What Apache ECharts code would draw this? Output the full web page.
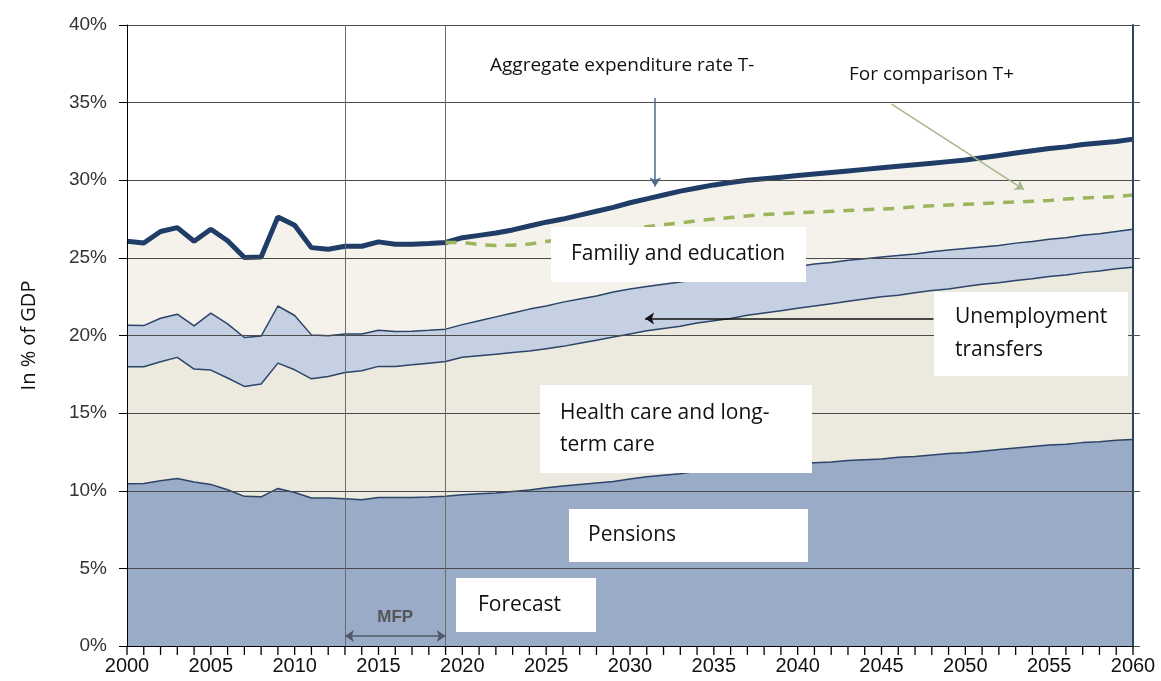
<!DOCTYPE html>
<html>
<head>
<meta charset="utf-8">
<script src="https://cdn.jsdelivr.net/npm/echarts@6/dist/echarts.min.js"></script>
<style>
  html, body { margin: 0; padding: 0; background: #fff; }
  #chart { width: 1161px; height: 681px; }
</style>
</head>
<body>
<div id="chart"></div>
<script>
// years on the x axis
var years = [2000, 2001, 2002, 2003, 2004, 2005, 2006, 2007, 2008, 2009,
  2010, 2011, 2012, 2013, 2014, 2015, 2016, 2017, 2018, 2019,
  2020, 2021, 2022, 2023, 2024, 2025, 2026, 2027, 2028, 2029,
  2030, 2031, 2032, 2033, 2034, 2035, 2036, 2037, 2038, 2039,
  2040, 2041, 2042, 2043, 2044, 2045, 2046, 2047, 2048, 2049,
  2050, 2051, 2052, 2053, 2054, 2055, 2056, 2057, 2058, 2059, 2060]

// upper edge of each band, in % of GDP (cumulative)
var aggregateT = [26.07, 25.96, 26.7, 26.95, 26.07, 26.84, 26.1, 25.02, 25.06, 27.64,
  27.1, 25.66, 25.56, 25.75, 25.75, 26.03, 25.88, 25.88, 25.92, 25.99,
  26.3, 26.45, 26.6, 26.8, 27.05, 27.3, 27.5, 27.75, 28.0, 28.25,
  28.55, 28.8, 29.05, 29.3, 29.5, 29.7, 29.85, 30.0, 30.1, 30.2,
  30.3, 30.4, 30.5, 30.6, 30.7, 30.8, 30.9, 31.0, 31.1, 31.2,
  31.3, 31.45, 31.6, 31.75, 31.9, 32.05, 32.15, 32.3, 32.4, 32.5, 32.65]

var unemploymentTop = [20.66, 20.64, 21.11, 21.37, 20.62, 21.44, 20.75, 19.87, 19.96, 21.9,
  21.29, 20.04, 19.98, 20.09, 20.09, 20.34, 20.26, 20.28, 20.34, 20.41,
  20.7, 20.95, 21.2, 21.45, 21.7, 21.9, 22.15, 22.35, 22.55, 22.8,
  23.0, 23.15, 23.3, 23.45, 23.6, 23.75, 23.9, 24.05, 24.2, 24.35,
  24.45, 24.6, 24.7, 24.85, 24.95, 25.05, 25.15, 25.25, 25.4, 25.5,
  25.6, 25.7, 25.8, 25.95, 26.05, 26.2, 26.3, 26.45, 26.55, 26.7, 26.85]

var healthTop = [17.99, 17.99, 18.31, 18.59, 17.84, 17.77, 17.26, 16.72, 16.87, 18.22,
  17.79, 17.21, 17.36, 17.62, 17.73, 18.01, 18.01, 18.11, 18.22, 18.33,
  18.6, 18.7, 18.8, 18.9, 19.0, 19.15, 19.3, 19.5, 19.7, 19.9,
  20.1, 20.3, 20.45, 20.6, 20.8, 20.95, 21.1, 21.3, 21.45, 21.6,
  21.75, 21.9, 22.05, 22.2, 22.35, 22.5, 22.6, 22.75, 22.9, 23.0,
  23.15, 23.3, 23.4, 23.55, 23.65, 23.8, 23.9, 24.05, 24.15, 24.3, 24.4]

var pensions = [10.45, 10.47, 10.64, 10.79, 10.56, 10.41, 10.06, 9.64, 9.61, 10.15,
  9.89, 9.53, 9.53, 9.49, 9.42, 9.57, 9.57, 9.57, 9.59, 9.64,
  9.75, 9.8, 9.85, 9.95, 10.05, 10.2, 10.3, 10.4, 10.5, 10.6,
  10.75, 10.9, 11.0, 11.1, 11.25, 11.35, 11.45, 11.55, 11.6, 11.7,
  11.75, 11.8, 11.85, 11.95, 12.0, 12.05, 12.15, 12.2, 12.3, 12.4,
  12.45, 12.55, 12.65, 12.75, 12.85, 12.95, 13.0, 13.1, 13.15, 13.25, 13.3]

// comparison T+ (from 2019 on)
var comparisonYears = years.slice(19)
var comparisonT = [25.99, 26.0, 25.85, 25.8, 25.82, 25.9, 26.05, 26.2, 26.4, 26.55,
  26.7, 26.85, 27.0, 27.15, 27.25, 27.4, 27.5, 27.6, 27.7, 27.8,
  27.85, 27.9, 27.95, 28.0, 28.05, 28.1, 28.15, 28.2, 28.3, 28.35,
  28.4, 28.45, 28.5, 28.55, 28.6, 28.65, 28.7, 28.8, 28.85, 28.9, 28.95, 29.05]

var mfpStart = 2013
var mfpEnd = 2019

function pairs(xs, ys) {
  return xs.map(function (x, i) { return [x, ys[i]] })
}

var lineColor = '#2b4468'
var labelFont = '"Open Sans", "Noto Sans", sans-serif'
var tickFont = '"Liberation Sans", Arial, sans-serif'

function band(name, values, fill, z, width, color) {
  return {
    name: name,
    type: 'line',
    data: pairs(years, values),
    symbol: 'none',
    z: z,
    lineStyle: { color: color || lineColor, width: width || 1.5 },
    areaStyle: { color: fill, opacity: 1, origin: 'start' }
  }
}

function labelBox(x, y, w, h, text, tx, lh) {
  return {
    type: 'group',
    z: 100,
    children: [
      { type: 'rect', shape: { x: x, y: y, width: w, height: h }, style: { fill: '#fff' }, z: 100 },
      {
        type: 'text', x: tx, y: y + h / 2, z: 101,
        style: { text: text, font: '21px ' + labelFont, fill: '#111', textVerticalAlign: 'middle', lineHeight: lh || 26 }
      }
    ]
  }
}

var chart = echarts.init(document.getElementById('chart'))

var option = {
  animation: false,
  backgroundColor: '#fff',
  grid: { left: 127, right: 28, top: 25, bottom: 35 },
  xAxis: {
    type: 'value',
    min: 2000,
    max: 2060,
    interval: 5,
    z: 10,
    axisLine: { show: true, onZero: false, lineStyle: { color: '#000', width: 1 } },
    axisTick: { show: false },
    splitLine: { show: false },
    axisLabel: { fontFamily: tickFont, fontSize: 20, color: '#111', margin: 10, formatter: function (v) { return String(v) } }
  },
  yAxis: [{
    type: 'value',
    min: 0,
    max: 40,
    interval: 5,
    z: 10,
    name: 'In % of GDP',
    nameLocation: 'middle',
    nameGap: 88,
    nameTextStyle: { fontFamily: labelFont, fontSize: 20, color: '#111' },
    axisLine: { show: true, lineStyle: { color: '#000', width: 1 } },
    axisTick: { show: true, length: 8, lineStyle: { color: '#000' } },
    axisLabel: { fontFamily: tickFont, fontSize: 19, color: '#333', margin: 20, formatter: '{value}%' },
    splitLine: { show: true, lineStyle: { color: '#4a4a4a', width: 1 } }
  }, {
    type: 'value',
    min: 0,
    max: 40,
    interval: 5,
    position: 'right',
    z: 10,
    axisLine: { show: true, lineStyle: { color: '#2b4468', width: 2 } },
    axisTick: { show: true, inside: false, length: 7, lineStyle: { color: '#555' } },
    axisLabel: { show: false },
    splitLine: { show: false }
  }],
  series: [
    Object.assign(band('Aggregate expenditure rate T-', aggregateT, '#f4f2ea', 2, 5, '#1f3d66'), {
      markLine: {
        silent: true,
        z: 20,
        symbol: ['none', 'arrow'],
        symbolSize: 9,
        label: { show: false },
        lineStyle: { color: '#50698c', width: 1.5, type: 'solid' },
        data: [[{ coord: [2031.5, 35.3] }, { coord: [2031.5, 29.6] }]]
      }
    }),
    Object.assign(band('Unemployment transfers', unemploymentTop, '#c5d0e3', 3), {
      markLine: {
        silent: true,
        z: 20,
        symbol: ['none', 'arrow'],
        symbolSize: 9,
        label: { show: false },
        lineStyle: { color: '#111', width: 1.5, type: 'solid' },
        data: [[{ coord: [2048.1, 21.1] }, { coord: [2030.9, 21.1] }]]
      }
    }),
    band('Health care and long-term care', healthTop, '#ece9de', 4),
    Object.assign(band('Pensions', pensions, '#9aabc8', 5), {
      markLine: {
        silent: true,
        z: 20,
        symbol: ['none', 'none'],
        label: { show: false },
        lineStyle: { color: '#6b6b6b', width: 1, type: 'solid' },
        data: [
          { xAxis: mfpStart },
          { xAxis: mfpEnd }
        ]
      }
    }),
    {
      name: 'For comparison T+',
      type: 'line',
      data: pairs(comparisonYears, comparisonT),
      symbol: 'none',
      z: 6,
      lineStyle: { color: '#9cb55c', width: 3.5, type: [11, 9] },
      markLine: {
        silent: true,
        z: 20,
        symbol: ['none', 'arrow'],
        symbolSize: 9,
        label: { show: false },
        lineStyle: { color: '#a9b68d', width: 1.5, type: 'solid' },
        data: [[{ coord: [2045.6, 34.9] }, { coord: [2053.5, 29.4] }]]
      }
    },
    {
      // MFP span arrow
      name: 'MFP',
      type: 'line',
      data: [],
      markLine: {
        silent: true,
        z: 20,
        symbol: ['arrow', 'arrow'],
        symbolSize: 9,
        lineStyle: { color: '#4e5a6a', width: 1.5, type: 'solid' },
        label: {
          show: true, position: 'middle', formatter: 'MFP', distance: 10,
          fontFamily: tickFont, fontWeight: 'bold', fontSize: 17, color: '#555'
        },
        data: [[{ coord: [mfpStart, 0.65] }, { coord: [mfpEnd, 0.65] }]]
      }
    },
    {
      // yearly tick marks hanging under the x axis
      name: 'ticks',
      type: 'scatter',
      data: years.map(function (yr) { return [yr, 0] }),
      symbol: 'rect',
      symbolSize: [1.3, 9],
      symbolOffset: [0, 4.5],
      clip: false,
      silent: true,
      z: 30,
      itemStyle: { color: '#000', opacity: 1 }
    }
  ],
  graphic: [
    labelBox(551, 227, 255, 55, 'Familiy and education', 571),
    labelBox(934, 292, 194, 84, 'Unemployment\ntransfers', 955, 33),
    labelBox(540, 385, 272, 88, 'Health care and long-\nterm care', 560, 32),
    labelBox(569, 509, 239, 53, 'Pensions', 588),
    labelBox(456, 578, 140, 54, 'Forecast', 478),
    {
      type: 'text', x: 490, y: 66, z: 101,
      style: { text: 'Aggregate expenditure rate T-', font: '19px ' + labelFont, fill: '#111', textVerticalAlign: 'middle' }
    },
    {
      type: 'text', x: 849, y: 75, z: 101,
      style: { text: 'For comparison T+', font: '19px ' + labelFont, fill: '#111', textVerticalAlign: 'middle' }
    }
  ]
}

chart.setOption(option)
</script>
</body>
</html>
